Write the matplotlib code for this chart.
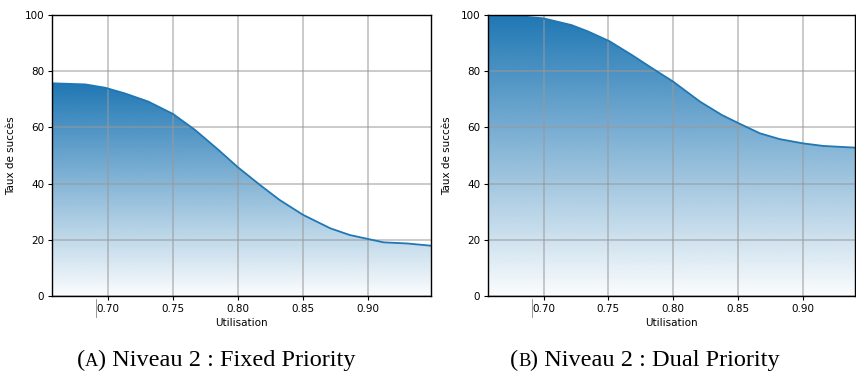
import numpy as np
import matplotlib
matplotlib.use("Agg")
import matplotlib.pyplot as plt
from matplotlib.patches import Polygon
import matplotlib.transforms as mtransforms

# utilisation values (x) and success rates
util_fp = [0.657, 0.6826, 0.698, 0.713, 0.731, 0.750, 0.767, 0.785,
           0.800, 0.817, 0.832, 0.850, 0.871, 0.886, 0.900, 0.912, 0.930, 0.9485]
succ_fp = [75.7, 75.3, 74.1, 72.1, 69.2, 64.8, 59.1, 52.0,
           45.8, 39.5, 34.2, 28.9, 24.1, 21.7, 20.3, 19.1, 18.7, 17.9]

util_dp = [0.657, 0.6728, 0.700, 0.7216, 0.7345, 0.7507, 0.768, 0.786, 0.800,
           0.821, 0.8377, 0.8505, 0.867, 0.8826, 0.9006, 0.916, 0.9405]
succ_dp = [100.0, 99.9, 98.8, 96.4, 94.1, 90.7, 85.8, 80.4, 76.3,
           69.1, 64.4, 61.5, 57.9, 55.8, 54.3, 53.4, 52.8]

xticks = [0.70, 0.75, 0.80, 0.85, 0.90]
yticks = [0, 20, 40, 60, 80, 100]
captions = ["Niveau 2 : Fixed Priority", "Niveau 2 : Dual Priority"]
letters = ["A", "B"]

blue = "#1f77b4"


def gradient_fill(ax, x, y):
    x = np.asarray(x)
    y = np.asarray(y)
    ax.plot(x, y, color=blue, lw=1.3, zorder=4, solid_joinstyle="round")
    rgb = matplotlib.colors.to_rgb(blue)
    z = np.empty((200, 1, 4))
    z[:, :, :3] = rgb
    z[:, :, 3] = np.linspace(0.02, 1.0, 200)[:, None]
    im = ax.imshow(z, aspect="auto", extent=[x.min(), x.max(), 0, y.max()],
                   origin="lower", zorder=2)
    xy = np.column_stack([x, y])
    xy = np.vstack([[x.min(), 0], xy, [x.max(), 0], [x.min(), 0]])
    clip = Polygon(xy, facecolor="none", edgecolor="none", closed=True)
    ax.add_patch(clip)
    im.set_clip_path(clip)


fig = plt.figure(figsize=(8.56, 3.74), dpi=100)
W, H = 856, 374
boxes = [(52, 431), (488, 855)]
top, bottom = 15, 296
data = [(util_fp, succ_fp, 0.9485), (util_dp, succ_dp, 0.9405)]
cap_x = [216, 645]
ren = fig.canvas.get_renderer()
fam = "Liberation Serif"
cap_size = 17.5

for i, ((l, r), (ux, sy, xmax)) in enumerate(zip(boxes, data)):
    ax = fig.add_axes([l / W, 1 - bottom / H, (r - l) / W, (bottom - top) / H])
    gradient_fill(ax, ux, sy)
    ax.set_xlim(0.657, xmax)
    ax.set_ylim(0, 100)
    ax.set_xticks(xticks)
    ax.set_xticklabels([f"{t:.2f}" for t in xticks])
    ax.set_yticks(yticks)
    ax.tick_params(labelsize=7.5, length=3, pad=2.5)
    ax.grid(True, color="#999999", lw=1.1, alpha=0.65, zorder=3)
    ax.set_axisbelow(False)
    ax.set_xlabel("Utilisation", fontsize=7.5, labelpad=3)
    ax.set_ylabel("Taux de succès", fontsize=7.5, labelpad=6)
    for s in ax.spines.values():
        s.set_linewidth(1.0)
        s.set_zorder(5)
    # small stray mark under the axis
    trans = mtransforms.blended_transform_factory(ax.transData, ax.transAxes)
    ax.plot([0.691, 0.691], [-0.011, -0.075], transform=trans, color="#888888",
            lw=0.6, clip_on=False)

    # caption with small-caps letter
    cy = 1 - 366 / H
    parts = [("(", cap_size), (letters[i], cap_size * 0.76),
             (") " + captions[i], cap_size)]
    widths = []
    for s, fs in parts:
        tmp = fig.text(0, 0, s, fontsize=fs, family=fam)
        widths.append(tmp.get_window_extent(ren).width)
        tmp.remove()
    x0 = cap_x[i] - sum(widths) / 2
    for (s, fs), w in zip(parts, widths):
        fig.text(x0 / W, cy, s, fontsize=fs, family=fam, ha="left",
                 va="baseline")
        x0 += w

fig.savefig("out.png", dpi=100)
